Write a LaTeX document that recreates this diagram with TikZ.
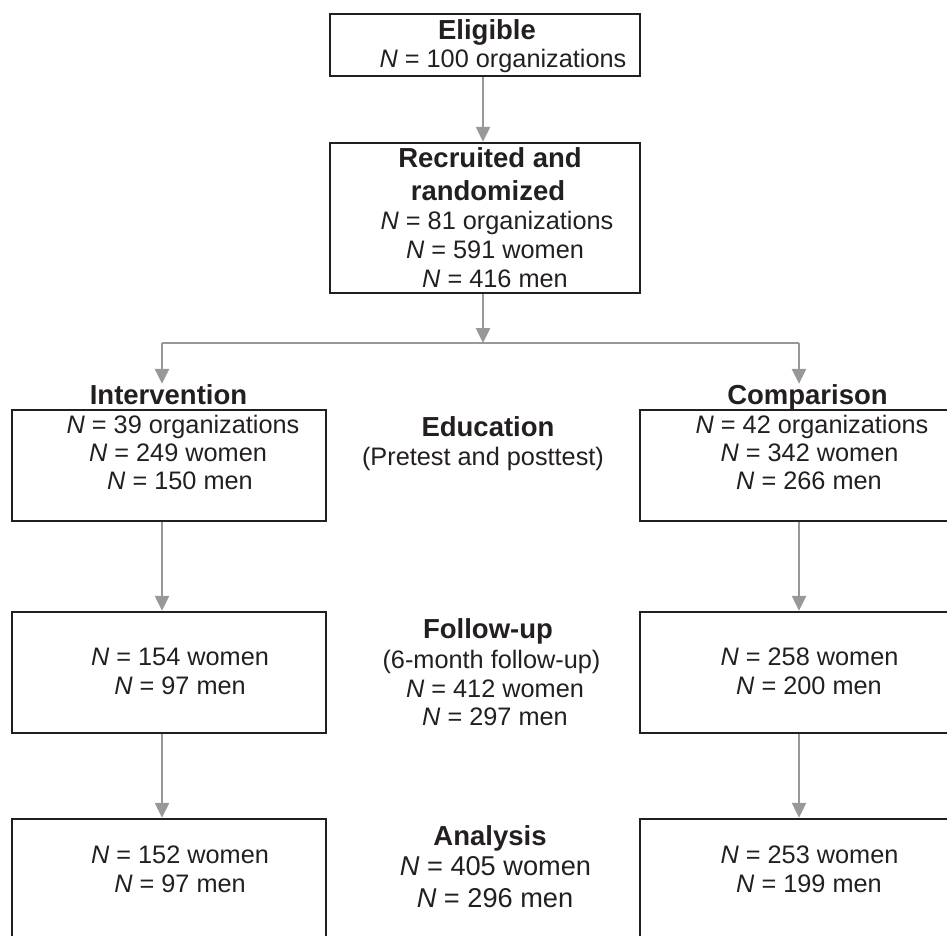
\documentclass[tikz,border=0pt]{standalone}
\usepackage{fontspec}
\setmainfont{Liberation Sans}
\usetikzlibrary{arrows.meta}
\definecolor{ink}{HTML}{231F20}
\definecolor{arrowgray}{HTML}{97989A}
\tikzset{
  boxnode/.style={draw=ink, line width=2.5pt, inner sep=0pt, rectangle},
  txt/.style={inner sep=0pt, anchor=base, text=ink, font=\fontsize{25.3}{30}\selectfont},
  hd/.style={inner sep=0pt, anchor=base, text=ink, font=\fontsize{27.5}{30}\selectfont\bfseries},
  big/.style={inner sep=0pt, anchor=base, text=ink, font=\fontsize{27.2}{30}\selectfont},
  arr/.style={draw=arrowgray, line width=2.5pt, -{Triangle[width=14pt,length=15pt]}},
  plainline/.style={draw=arrowgray, line width=2.5pt}
}
\newcommand{\NN}{\textit{N}}
\begin{document}
\begin{tikzpicture}[x=1pt,y=-1pt]
\useasboundingbox (0,0) rectangle (947,935);
\clip (0,0) rectangle (947,935);
% boxes
\node[boxnode, minimum width=310pt, minimum height=62pt] (elig) at (485,45) {};
\node[boxnode, minimum width=310pt, minimum height=150pt] (rec) at (485,218) {};
\node[boxnode, minimum width=314pt, minimum height=111pt] (intB) at (169,465.5) {};
\node[boxnode, minimum width=314pt, minimum height=111pt] (compB) at (797,465.5) {};
\node[boxnode, minimum width=314pt, minimum height=121pt] (fuL) at (169,672.5) {};
\node[boxnode, minimum width=314pt, minimum height=121pt] (fuR) at (797,672.5) {};
\node[boxnode, minimum width=314pt, minimum height=121pt] (anL) at (169,879.5) {};
\node[boxnode, minimum width=314pt, minimum height=121pt] (anR) at (797,879.5) {};
% texts: eligible
\node[hd] (eligT1) at (487,39) {Eligible};
\node[txt] (eligT2) at (503,67) {\NN{} = 100 organizations};
% recruited
\node[hd] (recT1) at (490,167) {Recruited and};
\node[hd] (recT2) at (488,200) {randomized};
\node[txt] (recT3) at (497,229) {\NN{} = 81 organizations};
\node[txt] (recT4) at (495,258) {\NN{} = 591 women};
\node[txt] (recT5) at (495,287) {\NN{} = 416 men};
% group titles
\node[hd] (intT) at (168.5,404) {Intervention};
\node[hd] (compT) at (807.5,404) {Comparison};
% intervention box
\node[txt] (intT1) at (183,433) {\NN{} = 39 organizations};
\node[txt] (intT2) at (178,461) {\NN{} = 249 women};
\node[txt] (intT3) at (180,489) {\NN{} = 150 men};
% comparison box
\node[txt] (compT1) at (812,433) {\NN{} = 42 organizations};
\node[txt] (compT2) at (809.5,461) {\NN{} = 342 women};
\node[txt] (compT3) at (809,489) {\NN{} = 266 men};
% education
\node[hd] (eduT1) at (488,436) {Education};
\node[txt] (eduT2) at (483,465) {(Pretest and posttest)};
% follow-up
\node[txt] (fuLT1) at (180,665) {\NN{} = 154 women};
\node[txt] (fuLT2) at (180,694) {\NN{} = 97 men};
\node[txt] (fuRT1) at (809.5,665) {\NN{} = 258 women};
\node[txt] (fuRT2) at (809,694) {\NN{} = 200 men};
\node[hd] (fuC1) at (488,638) {Follow-up};
\node[txt] (fuC2) at (491.5,668) {(6-month follow-up)};
\node[txt] (fuC3) at (495,697) {\NN{} = 412 women};
\node[txt] (fuC4) at (495,725) {\NN{} = 297 men};
% analysis
\node[txt] (anLT1) at (180,863) {\NN{} = 152 women};
\node[txt] (anLT2) at (180,892) {\NN{} = 97 men};
\node[txt] (anRT1) at (809.5,863) {\NN{} = 253 women};
\node[txt] (anRT2) at (809,892) {\NN{} = 199 men};
\node[hd] (anC1) at (490,845) {Analysis};
\node[big] (anC2) at (495.5,875) {\NN{} = 405 women};
\node[big] (anC3) at (495,907) {\NN{} = 296 men};
% connectors
\coordinate (split) at (483,343);
\coordinate (sl) at (162,343);
\coordinate (sr) at (799,343);
\draw[arr] ([xshift=-2pt]elig.south) -- ([xshift=-2pt]rec.north);
\draw[arr] ([xshift=-2pt]rec.south) -- (split);
\draw[plainline] (sl) -- (sr);
\draw[arr] (sl) -- (sl |- intT.north);
\draw[arr] (sr) -- (sr |- compT.north);
\draw[arr] (intB.south -| sl) -- (fuL.north -| sl);
\draw[arr] (compB.south -| sr) -- (fuR.north -| sr);
\draw[arr] (fuL.south -| sl) -- (anL.north -| sl);
\draw[arr] (fuR.south -| sr) -- (anR.north -| sr);
\end{tikzpicture}
\end{document}
